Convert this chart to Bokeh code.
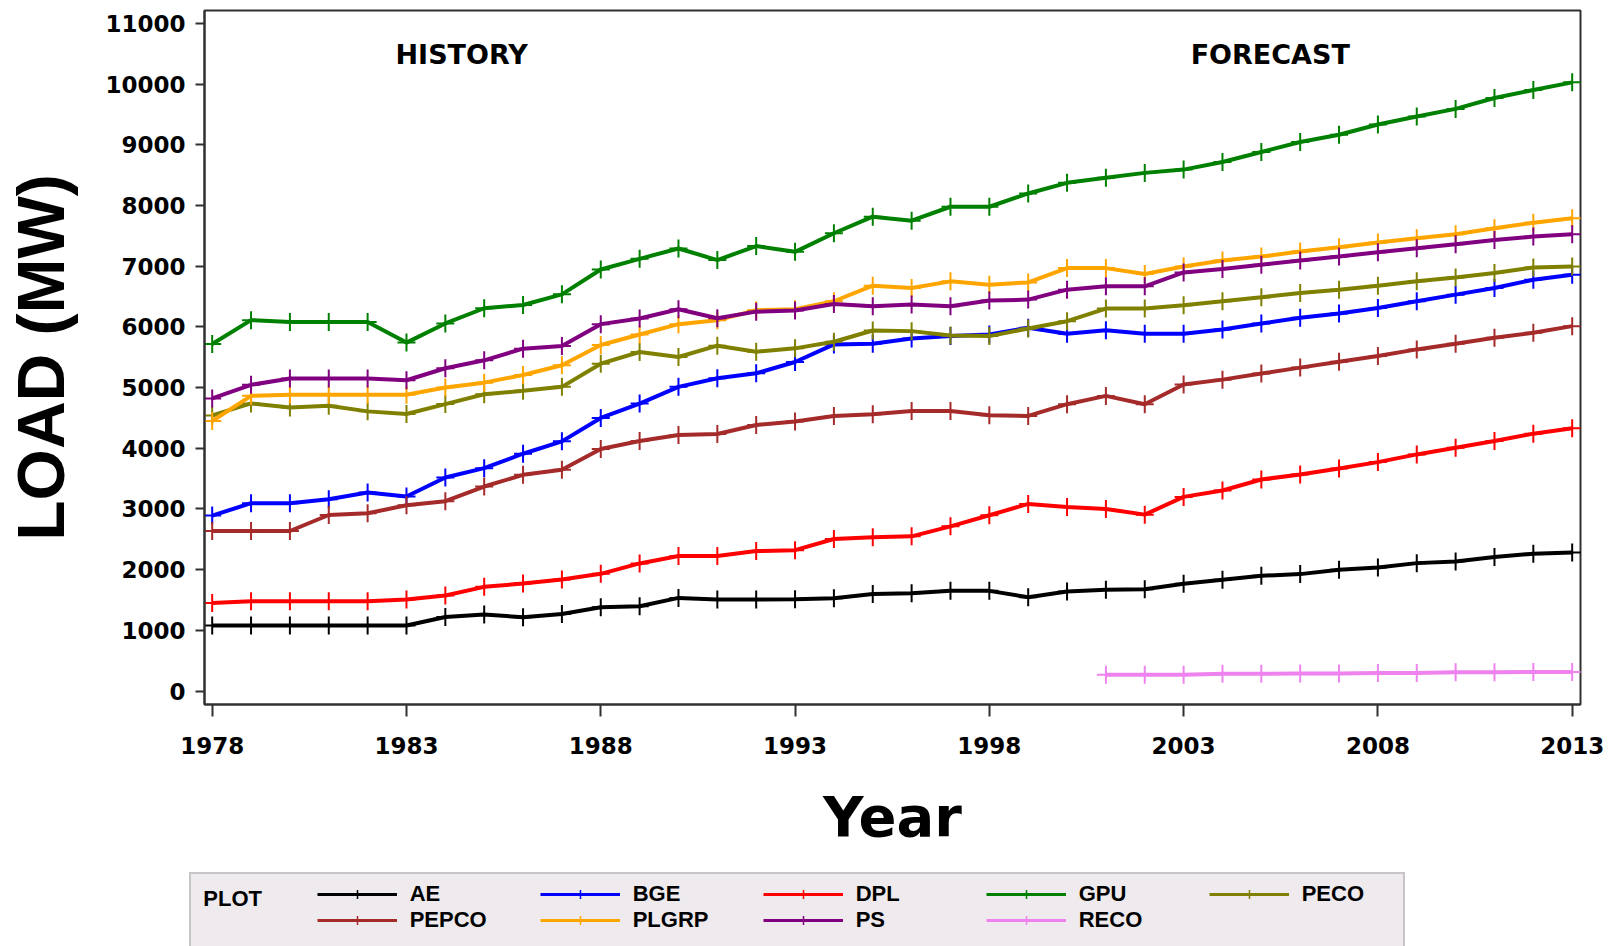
from bokeh.plotting import figure
from bokeh.layouts import column
from bokeh.models import (Range1d, FixedTicker, Legend, LegendItem, Label, ColumnDataSource)
from bokeh.embed import file_html
from bokeh.resources import INLINE

years = list(range(1978, 2014))
reco_years = list(range(2001, 2014))

AE = [1080, 1080, 1080, 1080, 1080, 1080, 1220, 1260, 1215, 1270, 1380, 1397,
      1534, 1507, 1507, 1510, 1529, 1600, 1612, 1650, 1650, 1545, 1639, 1667,
      1678, 1766, 1832, 1898, 1926, 1997, 2036, 2107, 2135, 2207, 2262, 2284]
PEPCO = [2636, 2636, 2636, 2900, 2928, 3060, 3127, 3369, 3562, 3645, 3986, 4118,
         4218, 4234, 4383, 4440, 4532, 4559, 4614, 4614, 4543, 4532, 4725, 4862,
         4725, 5050, 5130, 5230, 5328, 5426, 5519, 5628, 5721, 5820, 5902, 6011]
BGE = [2890, 3094, 3094, 3160, 3270, 3204, 3518, 3672, 3909, 4113, 4499, 4736,
       5011, 5153, 5235, 5420, 5710, 5721, 5809, 5847, 5874, 5984, 5885, 5945,
       5885, 5885, 5956, 6055, 6148, 6219, 6311, 6421, 6530, 6639, 6776, 6858]
PLGRP = [4449, 4863, 4880, 4880, 4880, 4880, 5000, 5080, 5207, 5366, 5700, 5874,
         6044, 6110, 6273, 6290, 6421, 6678, 6639, 6749, 6694, 6732, 6967, 6967,
         6869, 6995, 7093, 7158, 7240, 7311, 7388, 7459, 7525, 7623, 7716, 7787]
DPL = [1452, 1480, 1480, 1480, 1480, 1507, 1573, 1716, 1771, 1837, 1931, 2102,
       2223, 2223, 2306, 2320, 2504, 2532, 2548, 2713, 2895, 3083, 3033, 3000,
       2906, 3198, 3303, 3485, 3567, 3667, 3771, 3898, 4008, 4118, 4240, 4328]
PS = [4820, 5044, 5150, 5150, 5150, 5120, 5317, 5448, 5640, 5683, 6044, 6136,
      6290, 6140, 6250, 6270, 6377, 6339, 6366, 6339, 6432, 6448, 6612, 6667,
      6667, 6896, 6951, 7022, 7093, 7158, 7230, 7295, 7361, 7432, 7486, 7525]
GPU = [5716, 6110, 6080, 6080, 6080, 5740, 6055, 6306, 6360, 6535, 6945, 7120,
       7290, 7100, 7330, 7235, 7541, 7814, 7749, 7978, 7978, 8197, 8372, 8454,
       8536, 8590, 8716, 8880, 9044, 9164, 9333, 9464, 9590, 9770, 9902, 10027]
RECO = [270, 270, 270, 285, 285, 290, 290, 295, 295, 310, 310, 315, 315]
PECO = [4540, 4738, 4672, 4700, 4607, 4563, 4727, 4890, 4945, 5011, 5393, 5585,
        5503, 5689, 5590, 5645, 5754, 5940, 5929, 5858, 5847, 5973, 6093, 6301,
        6301, 6355, 6421, 6486, 6557, 6612, 6678, 6749, 6814, 6885, 6978, 6995]

series_names = ["AE", "BGE", "DPL", "GPU", "PECO", "PEPCO", "PLGRP", "PS", "RECO"]
series_values = {"AE": AE, "BGE": BGE, "DPL": DPL, "GPU": GPU, "PECO": PECO,
                 "PEPCO": PEPCO, "PLGRP": PLGRP, "PS": PS, "RECO": RECO}
series_years = {n: (reco_years if n == "RECO" else years) for n in series_names}
series_colors = {"AE": "#000000", "BGE": "#0000FF", "DPL": "#FF0000", "GPU": "#008000",
                 "PECO": "#808000", "PEPCO": "#A52A2A", "PLGRP": "#FFA500",
                 "PS": "#800080", "RECO": "#EE82EE"}

x_ticks = years[::5]
y_ticks = list(range(0, 11001, 1000))

W = 1604
p = figure(width=W, height=868, output_backend="svg", toolbar_location=None,
           x_range=Range1d(1977.802, 2013.214), y_range=Range1d(-222, 11211),
           min_border_left=204, min_border_right=24, min_border_top=10,
           min_border_bottom=164)
p.frame_align = False

p.background_fill_color = "white"
p.border_fill_color = "white"
p.outline_line_color = "#303030"
p.outline_line_width = 2
p.xgrid.visible = False
p.ygrid.visible = False

xa = p.xaxis[0]
xa.ticker = FixedTicker(ticks=x_ticks)
xa.minor_tick_line_color = None
xa.major_tick_in = 0
xa.major_tick_out = 12
xa.major_tick_line_width = 2
xa.axis_line_width = 2
xa.axis_line_color = "#303030"
xa.major_tick_line_color = "#303030"
xa.major_label_text_font = "DejaVu Sans"
xa.major_label_text_font_style = "bold"
xa.major_label_text_font_size = "23px"
xa.major_label_text_color = "black"
xa.major_label_standoff = 20
xa.axis_label = "Year"
xa.axis_label_text_font = "DejaVu Sans"
xa.axis_label_text_font_style = "bold"
xa.axis_label_text_font_size = "56px"
xa.axis_label_text_color = "black"
xa.axis_label_standoff = 27

ya = p.yaxis[0]
ya.ticker = FixedTicker(ticks=y_ticks)
ya.minor_tick_line_color = None
ya.major_tick_in = 0
ya.major_tick_out = 9
ya.major_tick_line_width = 2
ya.axis_line_width = 2
ya.axis_line_color = "#303030"
ya.major_tick_line_color = "#303030"
ya.major_label_text_font = "DejaVu Sans"
ya.major_label_text_font_style = "bold"
ya.major_label_text_font_size = "23px"
ya.major_label_text_color = "black"
ya.major_label_standoff = 10
ya.axis_label = "LOAD (MW)"
ya.axis_label_text_font = "Liberation Sans"
ya.axis_label_text_font_style = "bold"
ya.axis_label_text_font_size = "66px"
ya.axis_label_text_color = "black"
ya.axis_label_standoff = 24

for name in series_names:
    src = ColumnDataSource(dict(x=series_years[name], y=series_values[name]))
    c = series_colors[name]
    p.line("x", "y", source=src, line_color=c, line_width=4)
    p.scatter("x", "y", source=src, marker="cross", size=18,
              line_color=c, line_width=2)

for txt, xv, yv in [("HISTORY", 1984.42, 10491), ("FORECAST", 2005.23, 10491)]:
    p.add_layout(Label(x=xv, y=yv, text=txt, text_font="DejaVu Sans",
                       text_font_style="bold", text_font_size="27px",
                       text_align="center", text_baseline="middle",
                       text_color="black"))

# ---- legend strip (second figure directly below) ----
p2 = figure(width=W, height=78, output_backend="svg", toolbar_location=None,
            x_range=Range1d(0, 1), y_range=Range1d(0, 1),
            x_axis_location=None, y_axis_location=None,
            min_border=0, min_border_left=0, min_border_right=0,
            min_border_top=0, min_border_bottom=0)
p2.frame_align = False
p2.outline_line_color = None
p2.background_fill_color = "white"
p2.border_fill_color = "white"
p2.grid.visible = False

# proxy renderers (their data lies outside this strip's ranges, only legend glyphs show)
items = []
for name in series_names:
    c = series_colors[name]
    src2 = ColumnDataSource(dict(x=series_years[name], y=series_values[name]))
    r_line = p2.line("x", "y", source=src2, line_color=c, line_width=3)
    r_mark = p2.scatter("x", "y", source=src2, marker="cross", size=16,
                        line_color=c, line_width=1.5)
    items.append(LegendItem(label=name, renderers=[r_line, r_mark]))

dummy_src = ColumnDataSource(dict(x=years, y=AE))
dummy = p2.line("x", "y", source=dummy_src, line_alpha=0)
legA = Legend(items=[LegendItem(label=" ", renderers=[dummy])], title="PLOT",
              location=(189.3, -39.7), orientation="vertical",
              title_text_font="Liberation Sans", title_text_font_style="bold",
              title_text_font_size="22px", title_text_color="black",
              title_standoff=0, padding=12, margin=0, spacing=0,
              glyph_width=1, glyph_height=60, label_standoff=0,
              label_width=1187, label_height=60,
              border_line_color="#A0A0A0", border_line_width=2,
              background_fill_color="#EEEAEE", background_fill_alpha=1.0)
p2.add_layout(legA)

legB = Legend(items=items, location=(316.7, 13.3), orientation="horizontal", ncols=5,
              label_text_font="Liberation Sans", label_text_font_style="bold",
              label_text_font_size="22px", label_text_color="black",
              glyph_width=80, glyph_height=22, label_standoff=13,
              label_width=130, label_height=22, spacing=0, padding=0, margin=0,
              border_line_alpha=0, background_fill_alpha=0)
p2.add_layout(legB)

open("out.html", "w").write(file_html(column(p, p2), INLINE))
